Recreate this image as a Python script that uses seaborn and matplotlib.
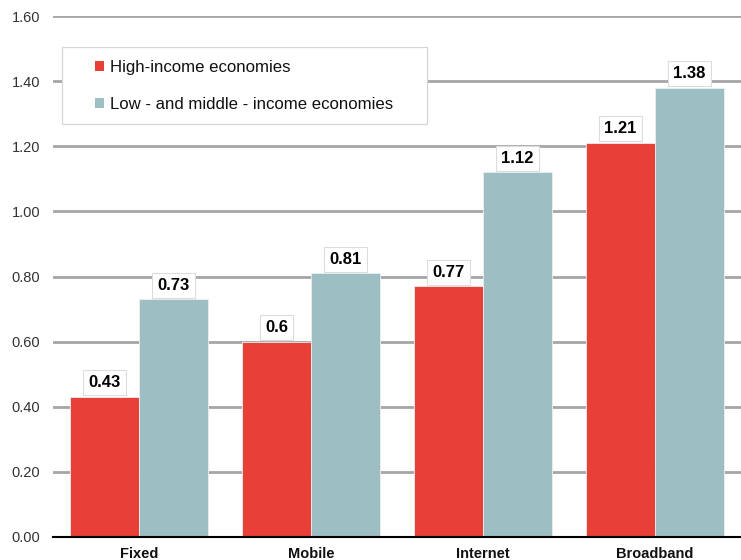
import matplotlib
matplotlib.use("Agg")
import matplotlib.pyplot as plt
import seaborn as sns
import pandas as pd
from matplotlib.patches import Rectangle
from matplotlib.ticker import FixedLocator, FormatStrFormatter

categories = ["Fixed", "Mobile", "Internet", "Broadband"]
groups = ["High-income economies", "Low - and middle - income economies"]
high_income = [0.43, 0.60, 0.77, 1.21]
low_middle_income = [0.73, 0.81, 1.12, 1.38]
value_labels_high = ["0.43", "0.6", "0.77", "1.21"]
value_labels_low = ["0.73", "0.81", "1.12", "1.38"]

df = pd.DataFrame({
    "category": categories * 2,
    "group": [groups[0]] * 4 + [groups[1]] * 4,
    "value": high_income + low_middle_income,
})

sns.set_theme(style="white")
plt.rcParams["font.family"] = ["Liberation Sans", "DejaVu Sans"]

W, H = 741, 560
fig = plt.figure(figsize=(W / 100, H / 100), dpi=100)
ax = fig.add_axes([53 / W, 1 - 537 / H, 1 - 53 / W, 521 / H])

palette = {groups[0]: "#E83F36", groups[1]: "#9BBFC3"}
sns.barplot(data=df, x="category", y="value", hue="group", order=categories,
            hue_order=groups, palette=palette, width=0.8, saturation=1,
            edgecolor="#eeeeee", linewidth=0.6, ax=ax, zorder=3)

ax.set_ylim(0, 1.6)
ax.set_xlim(-0.5, 3.5)
ax.yaxis.set_major_locator(FixedLocator([i * 0.2 for i in range(9)]))
ax.yaxis.set_major_formatter(FormatStrFormatter("%.2f"))
ax.grid(axis="y", color="#a6a6a6", linewidth=2, zorder=0)
ax.set_axisbelow(True)
ax.set_xlabel("")
ax.set_ylabel("")

for s in ["top", "right", "left"]:
    ax.spines[s].set_visible(False)
ax.spines["bottom"].set_color("black")
ax.spines["bottom"].set_linewidth(1.5)
ax.spines["bottom"].set_zorder(4)

ax.tick_params(axis="y", length=0, labelsize=10.5, labelcolor="#333333", pad=9)
ax.tick_params(axis="x", which="major", length=0, labelsize=10.5, pad=7,
               labelcolor="#111111")
ax.set_xticks([-0.5, 0.5, 1.5, 2.5, 3.5], minor=True)
ax.tick_params(axis="x", which="minor", length=5, width=1.5, color="black",
               direction="out")
for t in ax.get_xticklabels():
    t.set_fontweight("bold")

# value boxes sitting on top of each bar
for container, labels in zip(ax.containers, [value_labels_high, value_labels_low]):
    for bar, lab in zip(container, labels):
        x = bar.get_x() + bar.get_width() / 2
        y = bar.get_height()
        ax.annotate(lab, (x, y), xytext=(0, 4.8), textcoords="offset points",
                    ha="center", va="bottom", fontsize=12, fontweight="bold",
                    color="black", zorder=5,
                    bbox=dict(boxstyle="square,pad=0.3", fc="white",
                              ec="#dcdcdc", lw=0.8))

# legend panel
panel = Rectangle((62 / W, 1 - 124 / H), 365 / W, 77 / H,
                  transform=fig.transFigure, facecolor="white",
                  edgecolor="#d6d6d6", linewidth=0.9, zorder=4)
ax.add_patch(panel)

leg = ax.legend(loc="center left", bbox_to_anchor=(95 / W, 1 - 86 / H),
                bbox_transform=fig.transFigure, frameon=False,
                fontsize=12.1, handlelength=0.55, handleheight=0.55,
                handletextpad=0.35, borderpad=0, labelspacing=1.32,
                borderaxespad=0)
leg.set_zorder(6)
for h in leg.legend_handles:
    h.set_linewidth(0)
for t in leg.get_texts():
    t.set_color("#111111")

fig.savefig("out.png", dpi=100)
